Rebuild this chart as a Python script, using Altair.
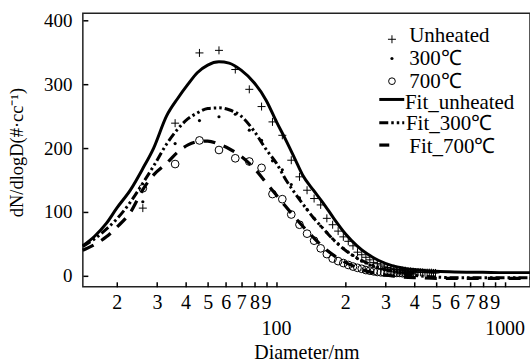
import altair as alt
import pandas as pd

FONT = "'Liberation Serif', 'Times New Roman', serif"

# measured size bins (nm)
diam_pts = [26, 36, 46, 56, 66, 76, 86, 96, 106, 116, 126, 136, 146, 156, 166, 176,
            186, 196, 206, 216, 226, 236, 246, 256, 266, 276, 286, 296, 306, 316, 326,
            336, 346, 356, 366, 376, 386, 396, 406, 416, 426, 436, 446, 456, 466, 476,
            486, 496]
unheated = [106, 239, 349, 353, 323, 292, 265, 241, 220, 181, 155, 134, 121, 111, 90, 80,
            70, 61, 54, 47, 37, 33, 29, 25, 21, 19, 17, 15, 13, 12, 11,
            9.5, 9, 8, 8, 7, 7, 6.5, 6, 6, 5.5, 5.5, 5, 5, 5, 5,
            4.5, 4.5]
heated_300 = [116, 207, 243, 249, 253, 228, 212, 180, 166, 143, 122, 104, 90, 78, 68, 58,
              50, 43, 37, 32, 27, 23, 20, 17, 15, 13, 11, 10, 9, 8, 7,
              6.5, 6, 5.5, 5, 5, 4.5, 4.5]
heated_700 = [137, 175, 212, 197, 184, 179, 169, 128, 120, 96, 80, 66, 55, 43, 34, 27,
              23, 20, 17, 14.5, 12.5, 11, 9, 8, 7, 6, 5.5, 5, 5, 5, 4.5,
              4.5, 4.5, 4, 4, 4, 4, 4]

# fitted curves
fit_d = [14.2, 16, 18, 20, 23, 26, 29, 33, 37, 41, 45, 50, 56, 62, 70, 80, 90, 100, 110,
         120, 130, 145, 160, 178, 200, 225, 250, 280, 320, 360, 420, 500, 600, 800, 1000, 1285]
fit_unheated = [47, 62, 82, 106, 135, 168, 200, 250, 278, 300, 318, 330, 335, 333, 322, 302,
                275, 241, 212, 184, 158, 134, 114, 90, 66, 47, 34, 24, 16, 12, 9, 7, 6, 5.5, 5, 5]
fit_300 = [46, 58, 73, 89, 116, 145, 172, 206, 230, 246, 255, 262, 263, 260, 250, 226,
           198, 176, 150, 130, 113, 91, 74, 56, 40, 28, 20, 13, 7, 3, 0, -2, -3, -3, -3, -3]
fit_700 = [40, 49, 61, 76, 100, 135, 158, 176, 194, 205, 210, 211, 206, 199, 187, 168,
           146, 126, 108, 92, 78, 60, 45, 32, 21, 13, 7, 3, 0, -2, -3, -4, -4, -4, -4, -4]

minor_ticks = [20, 30, 40, 50, 60, 70, 80, 90, 100, 200, 300, 400, 500, 600, 700, 800, 900, 1000]
major_ticks = [100, 1000]
major_labels = ["100", "1000"]
y_ticks = [0, 100, 200, 300, 400]

legend_marker_labels = ["Unheated", "300\u2103", "700\u2103"]
legend_line_labels = ["Fit_unheated", "Fit_300\u2103", "Fit_700\u2103"]

W, H = 448, 274
xscale = alt.Scale(type="log", domain=[14.21, 1285], nice=False)
yscale = alt.Scale(domain=[-17.2, 411], nice=False, zero=False)

xaxis = alt.Axis(
    values=minor_ticks, domain=False, grid=False, offset=-5, tickSize=5, tickWidth=1.5,
    tickColor="black",
    labelExpr="datum.value == 100 || datum.value == 1000 ? '' : substring(toString(datum.value), 0, 1)",
    labelFont=FONT, labelFontSize=20, labelColor="black", labelBaseline="alphabetic",
    labelPadding=22, labelFlush=False, labelOverlap=False,
    title="Diameter/nm", titleFont=FONT, titleFontSize=20, titleFontWeight="normal",
    titleColor="black", titleBaseline="alphabetic", titleY=77, titleX=224,
)
yaxis = alt.Axis(
    values=y_ticks, domain=False, grid=False, offset=-5, tickSize=5, tickWidth=1.5,
    tickColor="black", labelFont=FONT, labelFontSize=19, labelColor="black",
    labelPadding=11, labelBaseline="middle",
    title="dN/dlogD(#\u00b7cc\u207b\u00b9)", titleFont=FONT, titleFontSize=18.5,
    titleFontWeight="normal", titleColor="black", titleAngle=-90,
    titleAlign="center", titleBaseline="middle", titleX=-71, titleY=139,
)

def X():
    return alt.X("d:Q", scale=xscale, axis=xaxis)

def Y():
    return alt.Y("v:Q", scale=yscale, axis=yaxis)

df_unh = pd.DataFrame({"d": diam_pts[:len(unheated)], "v": unheated})
df_300 = pd.DataFrame({"d": diam_pts[:len(heated_300)], "v": heated_300})
df_700 = pd.DataFrame({"d": diam_pts[:len(heated_700)], "v": heated_700})
df_fu = pd.DataFrame({"d": fit_d, "v": fit_unheated})
df_f3 = pd.DataFrame({"d": fit_d, "v": fit_300})
df_f7 = pd.DataFrame({"d": fit_d, "v": fit_700})

PLUS = "M-1,0L1,0M0,-1L0,1"
DASHDOT = [9, 3, 2.5, 3, 2.5, 3]
DASH = [12, 9]

l_fu = alt.Chart(df_fu).mark_line(color="black", strokeWidth=3, interpolate="monotone").encode(x=X(), y=Y())
l_f3 = alt.Chart(df_f3).mark_line(color="black", strokeWidth=3, strokeDash=DASHDOT, interpolate="monotone").encode(x=X(), y=Y())
l_f7 = alt.Chart(df_f7).mark_line(color="black", strokeWidth=3.2, strokeDash=DASH, interpolate="monotone").encode(x=X(), y=Y())

p_unh = alt.Chart(df_unh).mark_point(shape=PLUS, size=64, filled=False, color="black", strokeWidth=1, opacity=1).encode(x=X(), y=Y())
p_300 = alt.Chart(df_300).mark_point(shape="circle", size=10, filled=True, color="black", opacity=1).encode(x=X(), y=Y())
p_700 = alt.Chart(df_700).mark_point(shape="circle", size=60, filled=False, color="black", strokeWidth=1, opacity=1).encode(x=X(), y=Y())

major_df = pd.DataFrame({"d": major_ticks, "lab": major_labels})
major_txt = alt.Chart(major_df).mark_text(font=FONT, fontSize=20, baseline="alphabetic", align="center", color="black").encode(
    x=X(), y=alt.value(322), text="lab:N")

# legend
lg_m = pd.DataFrame({"lab": legend_marker_labels, "row": [0, 1, 2]})
lg_l = pd.DataFrame({"lab": legend_line_labels, "row": [3, 4, 5]})

def leg_text(i, xpos):
    return alt.Chart(lg_m if i < 3 else lg_l).transform_filter(f"datum.row == {i}").mark_text(
        font=FONT, fontSize=21, baseline="alphabetic", align="left", color="black").encode(
        x=alt.value(xpos), y=alt.value([28.7, 51.3, 75, 96, 117, 140][i]), text="lab:N")

leg = [
    alt.Chart(lg_m).transform_filter("datum.row == 0").mark_point(shape=PLUS, size=64, filled=False, color="black", strokeWidth=1, opacity=1).encode(x=alt.value(309.7), y=alt.value(26)),
    alt.Chart(lg_m).transform_filter("datum.row == 1").mark_point(shape="circle", size=10, filled=True, color="black", opacity=1).encode(x=alt.value(309.7), y=alt.value(45.3)),
    alt.Chart(lg_m).transform_filter("datum.row == 2").mark_point(shape="circle", size=45, filled=False, color="black", strokeWidth=1, opacity=1).encode(x=alt.value(309.7), y=alt.value(68)),
    alt.Chart(lg_l).transform_filter("datum.row == 3").mark_rule(color="black", strokeWidth=3).encode(x=alt.value(297), x2=alt.value(322), y=alt.value(86.3)),
    alt.Chart(lg_l).transform_filter("datum.row == 4").mark_rule(color="black", strokeWidth=3, strokeDash=[9, 3, 2.5, 3, 2.5, 3, 2.5, 3]).encode(x=alt.value(297), x2=alt.value(322), y=alt.value(109.7)),
    alt.Chart(lg_l).transform_filter("datum.row == 5").mark_rule(color="black", strokeWidth=3.2).encode(x=alt.value(297), x2=alt.value(307), y=alt.value(132)),
    leg_text(0, 327), leg_text(1, 327), leg_text(2, 327),
    leg_text(3, 322.7), leg_text(4, 323.7), leg_text(5, 327),
]

chart = alt.layer(l_fu, l_f3, l_f7, p_unh, p_300, p_700, major_txt, *leg).properties(
    width=W, height=H,
    padding={"left": 83, "top": 13, "right": 0, "bottom": 77},
    autosize=alt.AutoSizeParams(type="none"),
    background="white",
).configure_view(stroke="#222", strokeWidth=1.5)

chart.save("out.html", embed_options={"renderer": "svg", "actions": False})
